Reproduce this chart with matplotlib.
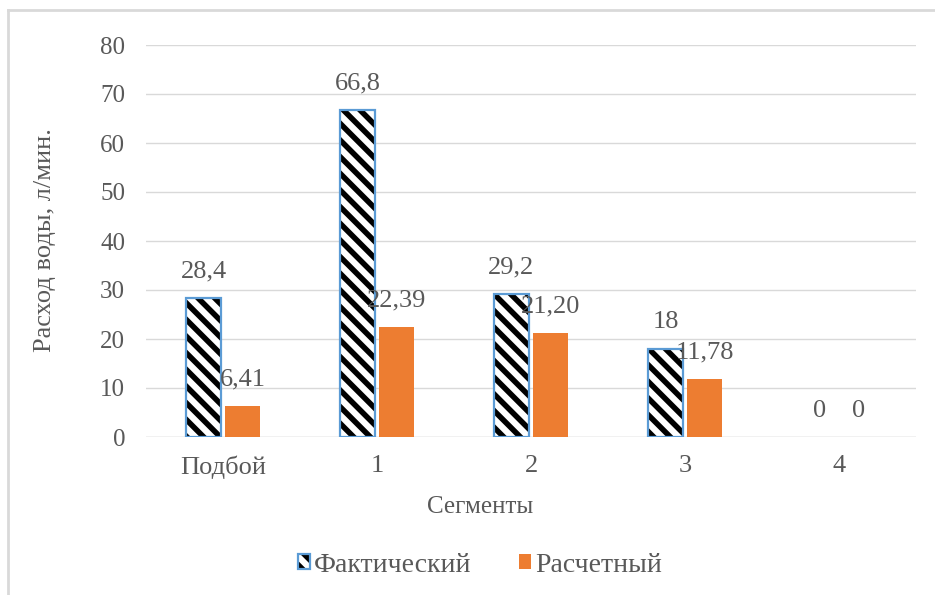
import matplotlib
matplotlib.use("Agg")
import matplotlib.pyplot as plt
from matplotlib.patches import Patch
from matplotlib.lines import Line2D
from matplotlib.legend_handler import HandlerTuple
import numpy as np

# Data
categories = ["Подбой", "1", "2", "3", "4"]
actual = [28.4, 66.8, 29.2, 18, 0]
calculated = [6.41, 22.39, 21.20, 11.78, 0]
series_names = ["Фактический", "Расчетный"]
y_ticks = [0, 10, 20, 30, 40, 50, 60, 70, 80]
x_title = "Сегменты"
y_title = "Расход воды, л/мин."

plt.rcParams["font.family"] = ["Liberation Serif", "DejaVu Serif"]
plt.rcParams["hatch.linewidth"] = 4.0

TEXT = "#595959"
GRID = "#d9d9d9"
BLUE = "#5b9bd5"
ORANGE = "#ed7d31"


def fmt_actual(v):
    return ("%g" % v).replace(".", ",")


def fmt_calc(v):
    return "0" if v == 0 else ("%.2f" % v).replace(".", ",")


fig = plt.figure(figsize=(9.35, 5.95), dpi=100)
ax = fig.add_axes([146 / 935, 1 - 437 / 595, 770 / 935, (437 - 45) / 595])

x = np.arange(len(categories))
w = 0.227
off = 0.127

# hatched fill (black stripes) and blue outline drawn as two layers
ax.bar(x - off, actual, w, color="white", edgecolor="black", hatch="\\\\",
       linewidth=0, zorder=3)
ax.bar(x - off, actual, w, fill=False, edgecolor=BLUE,
       linewidth=[1.6 if v > 0 else 0 for v in actual], zorder=4)
ax.bar(x + off, calculated, w, color=ORANGE, linewidth=0, zorder=3)

for xi, v in zip(x - off, actual):
    ax.annotate(fmt_actual(v), (xi, v), xytext=(0, 19), textcoords="offset points",
                ha="center", va="center", fontsize=19, color=TEXT, zorder=5)
for xi, v in zip(x + off, calculated):
    ax.annotate(fmt_calc(v), (xi, v), xytext=(0, 19), textcoords="offset points",
                ha="center", va="center", fontsize=19, color=TEXT, zorder=5)

ax.set_xlim(-0.5, len(categories) - 0.5)
ax.set_ylim(0, 80)
ax.set_yticks(y_ticks)
ax.set_xticks(x)
ax.set_xticklabels(categories)
ax.tick_params(axis="both", length=0, labelcolor=TEXT)
ax.tick_params(axis="y", pad=15, labelsize=18)
ax.tick_params(axis="x", pad=13, labelsize=19)
ax.grid(axis="y", color=GRID, linewidth=1, zorder=0)
ax.set_axisbelow(True)
for s in ax.spines.values():
    s.set_visible(False)
ax.axhline(0, color=GRID, linewidth=1, zorder=2)

fig.text(480 / 935, 1 - 507 / 595, x_title, ha="center", va="center",
         fontsize=18, color=TEXT)
fig.text(45 / 935, 1 - 240 / 595, y_title, ha="center", va="center",
         rotation=90, fontsize=19, color=TEXT)

# legend
h_fill = Patch(facecolor="white", edgecolor="black", hatch="\\\\", linewidth=0)
h_edge = Patch(facecolor="none", edgecolor=BLUE, linewidth=1.6)
h_calc = Patch(facecolor=ORANGE, edgecolor="none")
fig.legend([(h_fill, h_edge), h_calc], series_names,
           handler_map={tuple: HandlerTuple(ndivide=1, pad=0)},
           loc="center", bbox_to_anchor=(480 / 935, 1 - 565 / 595), ncol=2,
           frameon=False, fontsize=20, labelcolor=TEXT,
           handlelength=0.42, handleheight=0.42, handletextpad=0.15,
           columnspacing=1.7)

# outer frame of the chart area
fig.add_artist(Line2D([8 / 935, 8 / 935], [0, 1 - 10 / 595],
                      transform=fig.transFigure, color=GRID, linewidth=2))
fig.add_artist(Line2D([8 / 935, 1], [1 - 10 / 595, 1 - 10 / 595],
                      transform=fig.transFigure, color=GRID, linewidth=2))

fig.savefig("out.png", dpi=100)
